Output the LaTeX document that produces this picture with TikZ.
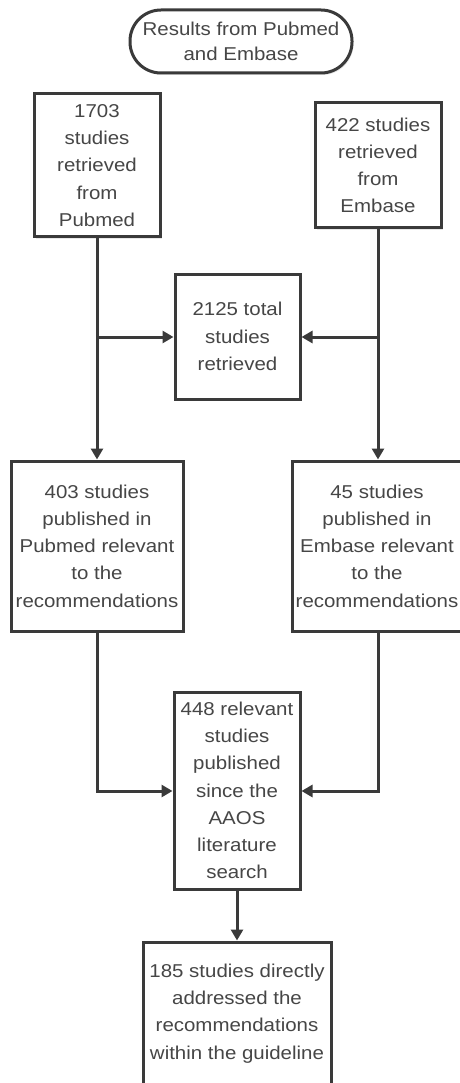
\documentclass[tikz,border=0pt]{standalone}
\usepackage{fontspec}
\setmainfont[FakeStretch=1.1]{Liberation Sans}
\usetikzlibrary{arrows.meta,shadows}
\definecolor{linegray}{RGB}{58,58,58}
\definecolor{textgray}{RGB}{70,70,70}
\begin{document}
\begin{tikzpicture}[x=1pt,y=-1pt,
  box/.style={draw=linegray, line width=3pt, fill=white, inner sep=0pt,
    align=center, text=textgray,
    font=\fontsize{18.6}{27.2}\selectfont,
    drop shadow={opacity=0.18, shadow xshift=1.5pt, shadow yshift=-2pt}},
  term/.style={box, rounded corners=31pt, font=\fontsize{18.6}{24.5}\selectfont},
  conn/.style={draw=linegray, line width=3pt},
  arr/.style={conn, -{Triangle[length=11pt,width=12pt]}}
]
\useasboundingbox (0,0) rectangle (459,1083);

\node[term, minimum width=222pt, minimum height=63pt] (t) at (241,41.5)
  {Results from Pubmed\\and Embase};

\node[box, minimum width=126pt, minimum height=143pt] (b1) at (97,165.5)
  {1703\\studies\\retrieved\\from\\Pubmed};
\node[box, minimum width=126pt, minimum height=125pt] (b2) at (378,165.5)
  {422 studies\\retrieved\\from\\Embase};
\node[box, minimum width=125pt, minimum height=125pt] (b3) at (237.5,336.5)
  {2125 total\\studies\\retrieved};
\node[box, minimum width=172pt, minimum height=170pt] (b4) at (97,546)
  {403 studies\\published in\\Pubmed relevant\\to the\\recommendations};
\node[box, minimum width=170pt, minimum height=170pt] (b5) at (377,546)
  {45 studies\\published in\\Embase relevant\\to the\\recommendations};
\node[box, minimum width=126pt, minimum height=197pt] (b6) at (237,790.5)
  {448 relevant\\studies\\published\\since the\\AAOS\\literature\\search};
\node[box, minimum width=188pt, minimum height=143pt] (b7) at (237,1013.5)
  {185 studies directly\\addressed the\\recommendations\\within the guideline};

\coordinate (j1) at (97,337);
\coordinate (j2) at (378,337);
\coordinate (k1) at (97,791);
\coordinate (k2) at (378,791);

\draw[arr] (b1.south) -- (b4.north -| b1.south);
\draw[arr] (j1) -- (b3.west |- j1);
\draw[arr] (b2.south) -- (b2.south |- b5.north);
\draw[arr] (j2) -- (b3.east |- j2);
\draw[arr] (b4.south -| k1) -- (k1) -- (b6.west |- k1);
\draw[arr] (b5.south -| k2) -- (k2) -- (b6.east |- k2);
\draw[arr] (b6.south) -- (b7.north);
\end{tikzpicture}
\end{document}
